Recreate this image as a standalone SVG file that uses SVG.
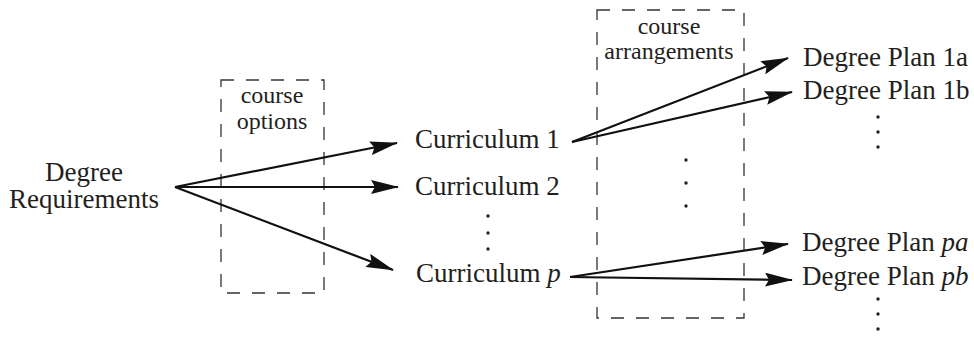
<svg xmlns="http://www.w3.org/2000/svg" width="974" height="340" viewBox="0 0 974 340">
<style>
text{font-family:"Liberation Serif","Times New Roman",serif;font-size:27px;fill:#231f20}
.s{font-size:24px}
.c{text-anchor:middle}
.box{fill:none;stroke:#333;stroke-width:1.3;stroke-dasharray:13,12}
.e{stroke:#111;stroke-width:2.2;fill:none;marker-end:url(#ah)}
.dot{fill:#231f20}
</style>
<defs>
<marker id="ah" markerWidth="28" markerHeight="14" refX="27" refY="7" orient="auto" markerUnits="userSpaceOnUse">
<path d="M0,0 L28,7 L0,14 L4,7 Z" fill="#111"/>
</marker>
</defs>
<g id="box-options"><rect class="box" x="221" y="80" width="103" height="213"/><text class="c s" x="272" y="103">course</text><text class="c s" x="272" y="129">options</text></g>
<g id="box-arrangements"><rect class="box" x="597" y="10" width="147" height="308"/><text class="c s" x="669" y="34">course</text><text class="c s" x="669" y="59">arrangements</text>
<circle class="dot" cx="686" cy="160" r="1.7"/><circle class="dot" cx="686" cy="183" r="1.7"/><circle class="dot" cx="686" cy="206" r="1.7"/></g>
<g id="degree-req"><text class="c" x="84" y="181">Degree</text><text class="c" x="84" y="208">Requirements</text></g>
<g id="cur1"><text x="415" y="148">Curriculum 1</text></g>
<g id="cur2"><text x="415" y="195">Curriculum 2</text></g>
<g id="cur-dots"><circle class="dot" cx="488" cy="216" r="1.7"/><circle class="dot" cx="488" cy="233" r="1.7"/><circle class="dot" cx="488" cy="249" r="1.7"/></g>
<g id="curp"><text x="416" y="282">Curriculum <tspan font-style="italic">p</tspan></text></g>
<g id="dp1a"><text x="803" y="66">Degree Plan 1a</text></g>
<g id="dp1b"><text x="803" y="99">Degree Plan 1b</text></g>
<g id="dp1-dots"><circle class="dot" cx="878" cy="117" r="1.7"/><circle class="dot" cx="878" cy="132" r="1.7"/><circle class="dot" cx="878" cy="147" r="1.7"/></g>
<g id="dppa"><text x="802" y="251">Degree Plan <tspan font-style="italic">pa</tspan></text></g>
<g id="dppb"><text x="802" y="285">Degree Plan <tspan font-style="italic">pb</tspan></text></g>
<g id="dpp-dots"><circle class="dot" cx="878" cy="299" r="1.7"/><circle class="dot" cx="878" cy="314" r="1.7"/><circle class="dot" cx="878" cy="329" r="1.7"/></g>
<g id="connectors">
<line class="e" x1="175" y1="187" x2="397" y2="143"/>
<line class="e" x1="175" y1="187" x2="398" y2="187"/>
<line class="e" x1="175" y1="187" x2="393" y2="270"/>
<line class="e" x1="572" y1="142" x2="788" y2="58"/>
<line class="e" x1="572" y1="142" x2="792" y2="92"/>
<line class="e" x1="570" y1="277" x2="788" y2="244"/>
<line class="e" x1="570" y1="277" x2="792" y2="280"/>
</g>
</svg>
